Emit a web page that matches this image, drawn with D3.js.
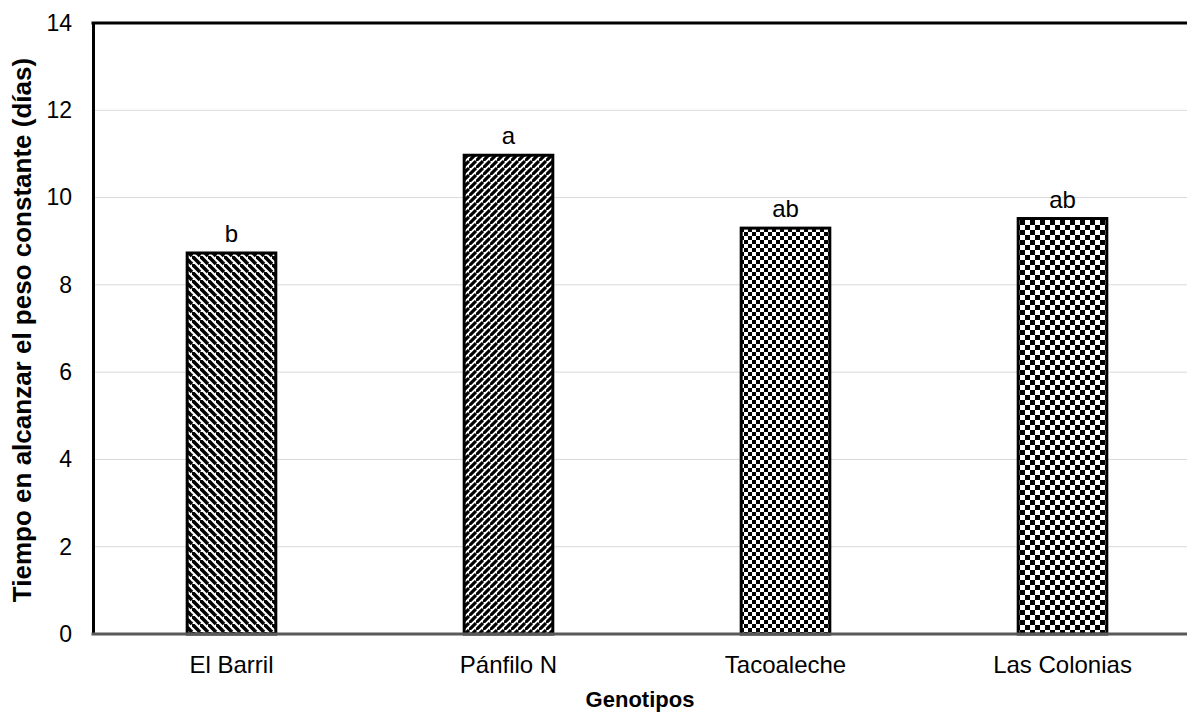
<!DOCTYPE html>
<html>
<head>
<meta charset="utf-8">
<script src="https://cdn.jsdelivr.net/npm/d3@7"></script>
<style>
  html, body { margin: 0; padding: 0; background: #fff; }
  svg { display: block; }
  text { font-family: "Liberation Sans", Arial, sans-serif; fill: #000; }
</style>
</head>
<body>
<svg id="chart" width="1187" height="714"></svg>
<script>
// Genotypes and mean time to constant weight (days)
const categories = ["El Barril", "Pánfilo N", "Tacoaleche", "Las Colonias"];
const values = [8.73, 10.97, 9.30, 9.52];
const groups = ["b", "a", "ab", "ab"];
const fills = ["wideDown", "wideUp", "checkSmall", "checkLarge"];
const yTicks = [0, 2, 4, 6, 8, 10, 12, 14];

const svg = d3.select("#chart");
const margin = { left: 93, top: 23, right: -14, bottom: 80 };
const W = 1187, H = 714;

const x = d3.scaleBand()
  .domain(categories)
  .range([margin.left, W - margin.right])
  .paddingInner(0.68)
  .paddingOuter(0.34);

const y = d3.scaleLinear().domain([0, 14]).range([H - margin.bottom, margin.top]);

// Fill patterns
const defs = svg.append("defs");
function diag(id, size, dir) {
  const p = defs.append("pattern").attr("id", id)
    .attr("patternUnits", "userSpaceOnUse")
    .attr("width", size).attr("height", size);
  p.append("rect").attr("width", size).attr("height", size).attr("fill", "#fff");
  const sw = size * 0.45;
  const lines = dir === "down"
    ? [[0, 0, size, size], [-size, 0, 0, size], [0, -size, size, 0]]
    : [[0, size, size, 0], [-size, size, 0, 0], [0, 2 * size, size, size]];
  lines.forEach(l => p.append("line")
    .attr("x1", l[0]).attr("y1", l[1]).attr("x2", l[2]).attr("y2", l[3])
    .attr("stroke", "#000").attr("stroke-width", sw));
}
function checker(id, s) {
  const p = defs.append("pattern").attr("id", id)
    .attr("patternUnits", "userSpaceOnUse")
    .attr("width", 2 * s).attr("height", 2 * s);
  p.append("rect").attr("width", 2 * s).attr("height", 2 * s).attr("fill", "#fff");
  p.append("rect").attr("width", s).attr("height", s).attr("fill", "#000");
  p.append("rect").attr("x", s).attr("y", s).attr("width", s).attr("height", s).attr("fill", "#000");
}
diag("wideDown", 8, "down");
diag("wideUp", 7, "up");
checker("checkSmall", 4);
checker("checkLarge", 5);

// Gridlines
svg.append("g")
  .selectAll("line")
  .data(yTicks.filter(d => d > 0 && d < 14))
  .join("line")
  .attr("x1", margin.left).attr("x2", W)
  .attr("y1", d => y(d)).attr("y2", d => y(d))
  .attr("stroke", "#d9d9d9").attr("stroke-width", 1);

// Top frame line
svg.append("line")
  .attr("x1", margin.left - 1.5).attr("x2", W)
  .attr("y1", y(14)).attr("y2", y(14))
  .attr("stroke", "#000").attr("stroke-width", 3);

// Bars
svg.append("g")
  .selectAll("rect")
  .data(categories)
  .join("rect")
  .attr("x", d => x(d))
  .attr("width", x.bandwidth())
  .attr("y", (d, i) => y(values[i]))
  .attr("height", (d, i) => y(0) - y(values[i]))
  .attr("fill", (d, i) => `url(#${fills[i]})`)
  .attr("stroke", "#000")
  .attr("stroke-width", 3);

// Significance letters
svg.append("g")
  .selectAll("text")
  .data(categories)
  .join("text")
  .attr("x", d => x(d) + x.bandwidth() / 2)
  .attr("y", (d, i) => y(values[i]) - 11)
  .attr("text-anchor", "middle")
  .attr("font-size", 24)
  .text((d, i) => groups[i]);

// Y axis
const yAxis = svg.append("g")
  .attr("transform", `translate(${margin.left},0)`)
  .call(d3.axisLeft(y).tickValues(yTicks).tickSize(0).tickPadding(21));
yAxis.select(".domain").attr("stroke", "#000").attr("stroke-width", 3);
yAxis.selectAll("text").attr("font-size", 23).attr("font-family", "Liberation Sans, Arial, sans-serif");

// X axis
const xAxis = svg.append("g")
  .attr("transform", `translate(0,${y(0)})`)
  .call(d3.axisBottom(x).tickSize(0).tickPadding(22));
xAxis.select(".domain").remove();
xAxis.selectAll("text").attr("font-size", 24).attr("font-family", "Liberation Sans, Arial, sans-serif");
svg.append("line")
  .attr("x1", margin.left - 1.5).attr("x2", W)
  .attr("y1", y(0)).attr("y2", y(0))
  .attr("stroke", "#595959").attr("stroke-width", 3);

// Axis titles
svg.append("text")
  .attr("x", 640).attr("y", 707)
  .attr("text-anchor", "middle")
  .attr("font-size", 22).attr("font-weight", "bold")
  .text("Genotipos");

svg.append("text")
  .attr("transform", "translate(31,330) rotate(-90)")
  .attr("text-anchor", "middle")
  .attr("font-size", 26).attr("font-weight", "bold")
  .text("Tiempo en alcanzar el peso constante (días)");
</script>
</body>
</html>
